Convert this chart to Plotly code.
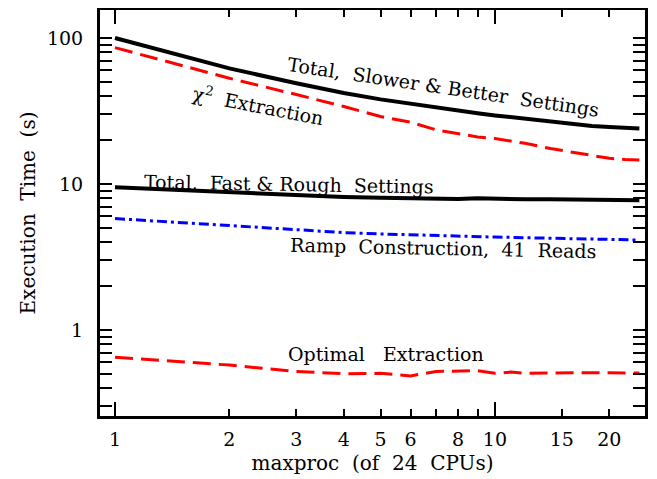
import plotly.graph_objects as go
import numpy as np

x = [1, 2, 3, 4, 5, 6, 7, 8, 9, 10, 11, 12, 14, 16, 18, 20, 22, 24]
total_slow = [100, 62, 49, 42, 38, 35.5, 33, 31.5, 30.5, 29.5, 28.7, 28, 26.7, 25.8, 25, 24.6, 24.2, 24]
chi2_ext = [86, 53, 41, 34, 29, 26.5, 23.5, 22, 21, 20.5, 19.7, 19, 17.5, 16.5, 15.8, 15, 14.7, 14.6]
total_fast = [9.5, 8.8, 8.35, 8.15, 8.05, 8.0, 8.0, 7.9, 8.0, 7.9, 7.87, 7.85, 7.85, 7.8, 7.78, 7.75, 7.75, 7.75]
ramp = [5.8, 5.2, 4.85, 4.65, 4.55, 4.48, 4.43, 4.4, 4.37, 4.33, 4.31, 4.3, 4.25, 4.22, 4.2, 4.17, 4.15, 4.13]
optimal = [0.65, 0.575, 0.52, 0.502, 0.505, 0.485, 0.52, 0.527, 0.527, 0.505, 0.515, 0.505, 0.51, 0.51, 0.51, 0.508, 0.508, 0.508]

x_tickvals = [1, 2, 3, 4, 5, 6, 8, 10, 15, 20]
x_ticktext = ["1", "2", "3", "4", "5", "6", "8", "10", "15", "20"]
x_minor = [7, 9]
x_major_long = [1, 10]
y_tickvals = [1, 10, 100]
y_ticktext = ["1", "10", "100"]
y_minor = [v * d for d in [0.1, 1, 10] for v in range(2, 10)]

FONT = "DejaVu Serif"
X_RANGE = [-0.0395, 1.395]
Y_RANGE = [-0.589, 2.192]

fig = go.Figure()
fig.add_trace(go.Scatter(x=x, y=total_slow, mode="lines", line=dict(color="black", width=4)))
fig.add_trace(go.Scatter(x=x, y=chi2_ext, mode="lines", line=dict(color="red", width=3, dash="18px,8px")))
fig.add_trace(go.Scatter(x=x, y=total_fast, mode="lines", line=dict(color="black", width=4)))
fig.add_trace(go.Scatter(x=x, y=ramp, mode="lines", line=dict(color="blue", width=3, dash="10px,4px,3px,4px")))
fig.add_trace(go.Scatter(x=x, y=optimal, mode="lines", line=dict(color="red", width=3, dash="18px,8px")))
# empty trace so the overlay axis (long major ticks at decades) is instantiated
fig.add_trace(go.Scatter(x=[], y=[], xaxis="x2", yaxis="y", mode="lines", hoverinfo="skip"))

labels = [
    ("Total,  Slower & Better  Settings", 7.34, 46.2, 8.4),
    ("χ<sup>2</sup>  Extraction", 2.39, 34.8, 11),
    ("Total,  Fast & Rough  Settings", 2.87, 10.0, 1.0),
    ("Ramp  Construction,  41  Reads", 7.3, 3.65, 1.2),
    ("Optimal   Extraction", 5.17, 0.685, 0),
]
for t, lx, ly, ang in labels:
    fig.add_annotation(x=np.log10(lx), y=np.log10(ly), text=t, showarrow=False,
                       textangle=ang, font=dict(family=FONT, size=19, color="black"))

axis_common = dict(type="log", showline=True, linecolor="black", linewidth=3, mirror="allticks",
                   ticks="inside", tickcolor="black", tickwidth=1.5, automargin=False,
                   showgrid=False, zeroline=False,
                   tickfont=dict(family=FONT, size=19, color="black"))

fig.update_layout(
    xaxis=dict(**axis_common, range=X_RANGE, tickvals=x_tickvals, ticktext=x_ticktext, ticklen=7,
               ticklabelstandoff=4,
               minor=dict(tickvals=x_minor, ticks="inside", ticklen=7, tickcolor="black", tickwidth=1.5),
               title=dict(text="maxproc  (of  24  CPUs)", font=dict(family=FONT, size=20, color="black"),
                          standoff=8)),
    xaxis2=dict(type="log", overlaying="x", anchor="y", side="bottom", range=X_RANGE,
                tickvals=x_major_long, showticklabels=False, ticks="inside", ticklen=14,
                tickcolor="black", tickwidth=1.5, showline=True, linecolor="black", linewidth=3,
                mirror="allticks", showgrid=False, zeroline=False, automargin=False),
    yaxis=dict(**axis_common, range=Y_RANGE, tickvals=y_tickvals, ticktext=y_ticktext, ticklen=12,
               ticklabelstandoff=10,
               minor=dict(tickvals=y_minor, ticks="inside", ticklen=7, tickcolor="black", tickwidth=1.5),
               title=dict(text="Execution  Time  (s)", font=dict(family=FONT, size=20, color="black"),
                          standoff=6)),
    width=649, height=471, showlegend=False, plot_bgcolor="white", paper_bgcolor="white",
    margin=dict(l=92, r=12, t=2, b=63),
)
fig.write_html("out.html")
